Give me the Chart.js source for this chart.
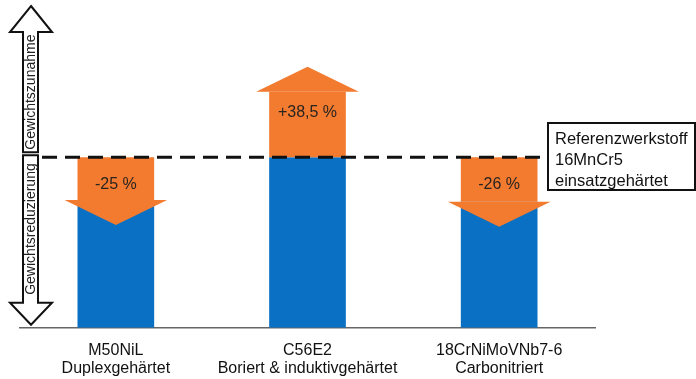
<!DOCTYPE html>
<html>
<head>
<meta charset="utf-8">
<script src="https://cdn.jsdelivr.net/npm/chart.js@4/dist/chart.umd.min.js"></script>
<style>
  body { margin: 0; background: #fff; }
  #wrap { width: 696px; height: 379px; }
</style>
</head>
<body>
<div id="wrap"><canvas id="chart" width="696" height="379"></canvas></div>
<script>
// data
var materials = [
  ["M50NiL", "Duplexgehärtet"],
  ["C56E2", "Boriert & induktivgehärtet"],
  ["18CrNiMoVNb7-6", "Carbonitriert"]
];
var reference = 100; // 16MnCr5 einsatzgehärtet = 100 %
var changes = [-25, 38.5, -26];
var blueValues = [75, 100, 74];
var refLabel = ["Referenzwerkstoff", "16MnCr5", "einsatzgehärtet"];
var sideLabels = ["Gewichtszunahme", "Gewichtsreduzierung"];

var BLUE = "#0a70c3";
var ORANGE = "#f27b30";
var FONT = "'Liberation Sans', Arial, sans-serif";

var orangeBars = changes.map(function (c) {
  return c < 0 ? [reference + c, reference] : [reference, reference + c];
});

function fmt(c) {
  return (c > 0 ? "+" : "") + String(c).replace(".", ",") + " %";
}

var decorations = {
  id: "decorations",
  afterDatasetsDraw: function (chart) {
    var ctx = chart.ctx;
    var y = chart.scales.y;
    var meta = chart.getDatasetMeta(1);
    var yRef = y.getPixelForValue(reference);

    // arrow heads + labels
    ctx.save();
    meta.data.forEach(function (bar, i) {
      var c = changes[i];
      var half = bar.width / 2;
      var yEnd = y.getPixelForValue(reference + c);
      var dir = c < 0 ? 1 : -1;
      ctx.fillStyle = ORANGE;
      ctx.beginPath();
      ctx.moveTo(bar.x - half - 13, yEnd);
      ctx.lineTo(bar.x + half + 13, yEnd);
      ctx.lineTo(bar.x, yEnd + dir * 25);
      ctx.closePath();
      ctx.fill();

      ctx.fillStyle = "#2a2420";
      ctx.font = "16px " + FONT;
      ctx.textAlign = "center";
      ctx.textBaseline = "middle";
      var ty = c < 0 ? yRef + 27 : yRef - 45;
      ctx.fillText(fmt(c), bar.x, ty);
    });

    // dashed reference line
    ctx.strokeStyle = "#111";
    ctx.lineWidth = 3;
    ctx.setLineDash([15, 8]);
    ctx.beginPath();
    ctx.moveTo(42, yRef);
    ctx.lineTo(548, yRef);
    ctx.stroke();
    ctx.setLineDash([]);

    // reference box
    ctx.fillStyle = "#fff";
    ctx.fillRect(548, 123, 147, 67);
    ctx.lineWidth = 2;
    ctx.strokeRect(548, 123, 147, 67);
    ctx.fillStyle = "#111";
    ctx.font = "16.5px " + FONT;
    ctx.textAlign = "left";
    ctx.textBaseline = "middle";
    refLabel.forEach(function (t, k) {
      ctx.fillText(t, 555, 139 + k * 21);
    });

    // left double arrow
    var bottom = chart.chartArea.bottom;
    ctx.lineWidth = 2;
    ctx.strokeStyle = "#111";
    ctx.fillStyle = "#fff";
    // upper: head on top
    ctx.beginPath();
    ctx.moveTo(31, 6);
    ctx.lineTo(52, 32);
    ctx.lineTo(38, 32);
    ctx.lineTo(38, yRef - 5);
    ctx.lineTo(23, yRef - 5);
    ctx.lineTo(23, 32);
    ctx.lineTo(10, 32);
    ctx.closePath();
    ctx.fill();
    ctx.stroke();
    // lower: head at bottom
    ctx.beginPath();
    ctx.moveTo(23, yRef - 2);
    ctx.lineTo(38, yRef - 2);
    ctx.lineTo(38, bottom - 25);
    ctx.lineTo(52, bottom - 25);
    ctx.lineTo(31, bottom - 3);
    ctx.lineTo(10, bottom - 25);
    ctx.lineTo(23, bottom - 25);
    ctx.closePath();
    ctx.fill();
    ctx.stroke();

    ctx.fillStyle = "#222";
    ctx.font = "14px " + FONT;
    ctx.textAlign = "center";
    ctx.textBaseline = "middle";
    ctx.translate(31, 0);
    ctx.rotate(-Math.PI / 2);
    ctx.fillText(sideLabels[0], -(32 + yRef - 5) / 2, 0);
    ctx.fillText(sideLabels[1], -(yRef - 2 + bottom - 25) / 2, 0);
    ctx.restore();
  }
};

new Chart(document.getElementById("chart"), {
  type: "bar",
  data: {
    labels: materials,
    datasets: [
      {
        data: blueValues,
        backgroundColor: BLUE,
        grouped: false,
        order: 2,
      },
      {
        data: orangeBars,
        backgroundColor: ORANGE,
        grouped: false,
        order: 1,
      },
    ],
  },
  options: {
    responsive: false,
    animation: false,
    barPercentage: 0.4,
    categoryPercentage: 1,
    layout: { padding: { left: 20, right: 101, top: 55, bottom: -12 } },
    plugins: { legend: { display: false }, tooltip: { enabled: false } },
    scales: {
      y: { display: false, min: 0, max: 160 },
      x: {
        grid: { display: false, drawTicks: false },
        border: { color: "#666", width: 1.5 },
        ticks: {
          color: "#111",
          padding: 14,
          font: { family: FONT, size: 16, lineHeight: 1.1 },
        },
      },
    },
  },
  plugins: [decorations],
});
</script>
</body>
</html>
